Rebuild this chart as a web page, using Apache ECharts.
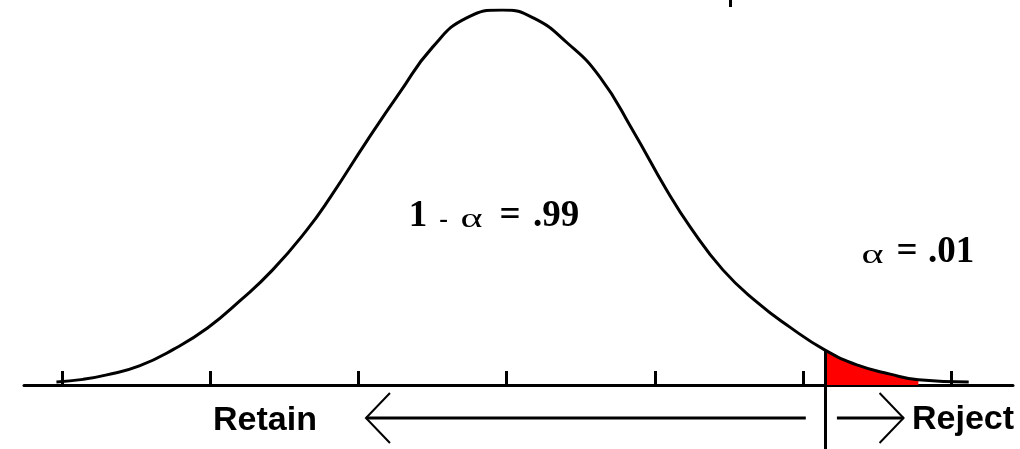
<!DOCTYPE html>
<html>
<head>
<meta charset="utf-8">
<title>One-tailed test, alpha = .01</title>
<script src="https://cdn.jsdelivr.net/npm/echarts@6/dist/echarts.min.js"></script>
<style>
  html, body { margin: 0; padding: 0; background: #fff; }
  #chart { width: 1020px; height: 449px; }
</style>
</head>
<body>
<div id="chart"></div>
<script>
// Standard-deviation positions of the axis ticks
const tickValues = [-3, -2, -1, 0, 1, 2, 3];

// Sampled bell curve: position in standard deviations, height relative to the peak
const curveZ = [-3.04, -2.86, -2.70, -2.48, -2.25, -2.02, -1.80, -1.58, -1.35, -1.19,
                -0.94, -0.72, -0.50, -0.27, -0.03, 0.18, 0.41, 0.63, 0.85, 1.08,
                1.24, 1.46, 1.69, 1.91, 2.15, 2.37, 2.59, 2.78, 3.12];
const curveH = [0.008, 0.015, 0.027, 0.051, 0.095, 0.152, 0.225, 0.307, 0.413, 0.501,
                0.653, 0.781, 0.901, 0.979, 1.000, 0.979, 0.912, 0.821, 0.680, 0.520,
                0.421, 0.307, 0.221, 0.155, 0.093, 0.053, 0.029, 0.014, 0.008];

// Critical value separating the retain and reject regions
const critZ = 2.15;
const critH = 0.093;

// Arrow extents under the axis, in standard deviations
const retainArrow = [-0.95, 2.02];
const rejectArrow = [2.23, 2.68];

const curveData = curveZ.map((z, i) => [z, curveH[i]]);
const tailData = curveData.filter(d => d[0] >= critZ && d[1] > 0.01);

const Y_MIN = -64 / 375;

const chart = echarts.init(document.getElementById('chart'), null, { renderer: 'canvas' });

chart.setOption({
  animation: false,
  backgroundColor: '#ffffff',
  grid: { left: 24, right: 7, top: 10, bottom: 0, containLabel: false },
  xAxis: {
    type: 'value',
    min: -3.259,
    max: 3.419,
    axisLine: { show: true, onZero: true, lineStyle: { color: '#000', width: 3 } },
    axisTick: {
      show: true, inside: true, length: 14,
      customValues: tickValues,
      lineStyle: { color: '#000', width: 3 }
    },
    axisLabel: { show: false },
    splitLine: { show: false }
  },
  yAxis: {
    type: 'value',
    min: Y_MIN,
    max: 1,
    show: false,
    splitLine: { show: false }
  },
  series: [
    {
      // rejection region under the right tail
      type: 'line',
      data: tailData,
      smooth: 0.5,
      symbol: 'none',
      lineStyle: { width: 0 },
      areaStyle: { color: '#ff0000', opacity: 1 },
      z: 1
    },
    {
      type: 'line',
      data: curveData,
      smooth: 0.5,
      symbol: 'none',
      lineStyle: { color: '#000', width: 3 },
      z: 3,
      markLine: {
        silent: true,
        symbol: ['none', 'none'],
        label: { show: false },
        lineStyle: { color: '#000', width: 3, type: 'solid' },
        data: [[{ coord: [critZ, critH] }, { coord: [critZ, Y_MIN] }]]
      }
    }
  ]
});

// Arrows and text
const px = (z, h) => chart.convertToPixel({ gridIndex: 0 }, [z, h]);
const axisY = px(0, 0)[1];
const arrowY = axisY + 33;
const headW = 24, headH = 25;
const lTip = px(retainArrow[0], 0)[0];
const lEnd = px(retainArrow[1], 0)[0];
const rStart = px(rejectArrow[0], 0)[0];
const rTip = px(rejectArrow[1], 0)[0];

const serif = '"Liberation Serif", "Times New Roman", serif';
const sans = '"Liberation Sans", Arial, sans-serif';

function txt(text, x, baseline, size, weight, family, align, sx) {
  return {
    type: 'text',
    x: x,
    y: baseline - 0.34 * size,
    scaleX: sx || 1,
    style: {
      text: text,
      x: 0,
      y: 0,
      fill: '#000',
      font: weight + ' ' + size + 'px ' + family,
      align: align || 'center',
      verticalAlign: 'middle'
    },
    z: 10
  };
}

chart.setOption({
  graphic: [
    { type: 'line', shape: { x1: lTip, y1: arrowY, x2: lEnd, y2: arrowY },
      style: { stroke: '#000', lineWidth: 3 } },
    { type: 'polyline', shape: { points: [[lTip + headW, arrowY - headH], [lTip, arrowY], [lTip + headW, arrowY + headH]] },
      style: { stroke: '#000', lineWidth: 2, fill: null } },
    { type: 'line', shape: { x1: rStart, y1: arrowY, x2: rTip, y2: arrowY },
      style: { stroke: '#000', lineWidth: 3 } },
    { type: 'polyline', shape: { points: [[rTip - headW, arrowY - headH], [rTip, arrowY], [rTip - headW, arrowY + headH]] },
      style: { stroke: '#000', lineWidth: 2, fill: null } },
    { type: 'rect', shape: { x: 729, y: 0, width: 3, height: 7 }, style: { fill: '#000' } },

    txt('Retain', 213, 432, 34, 'bold', sans, 'left'),
    txt('Reject', 912, 431, 34, 'bold', sans, 'left'),

    txt('1', 418, 229, 37, 'bold', serif),
    txt('-', 443.5, 229, 26, 'bold', serif),
    txt('α', 471.5, 229, 28, 'normal', serif, 'center', 1.5),
    txt('=', 510, 229, 37, 'bold', serif),
    txt('.99', 533, 229, 37, 'bold', serif, 'left'),

    txt('α', 872.5, 265, 28, 'normal', serif, 'center', 1.5),
    txt('=', 907, 265, 37, 'bold', serif),
    txt('.01', 928, 265, 37, 'bold', serif, 'left')
  ]
});
</script>
</body>
</html>
